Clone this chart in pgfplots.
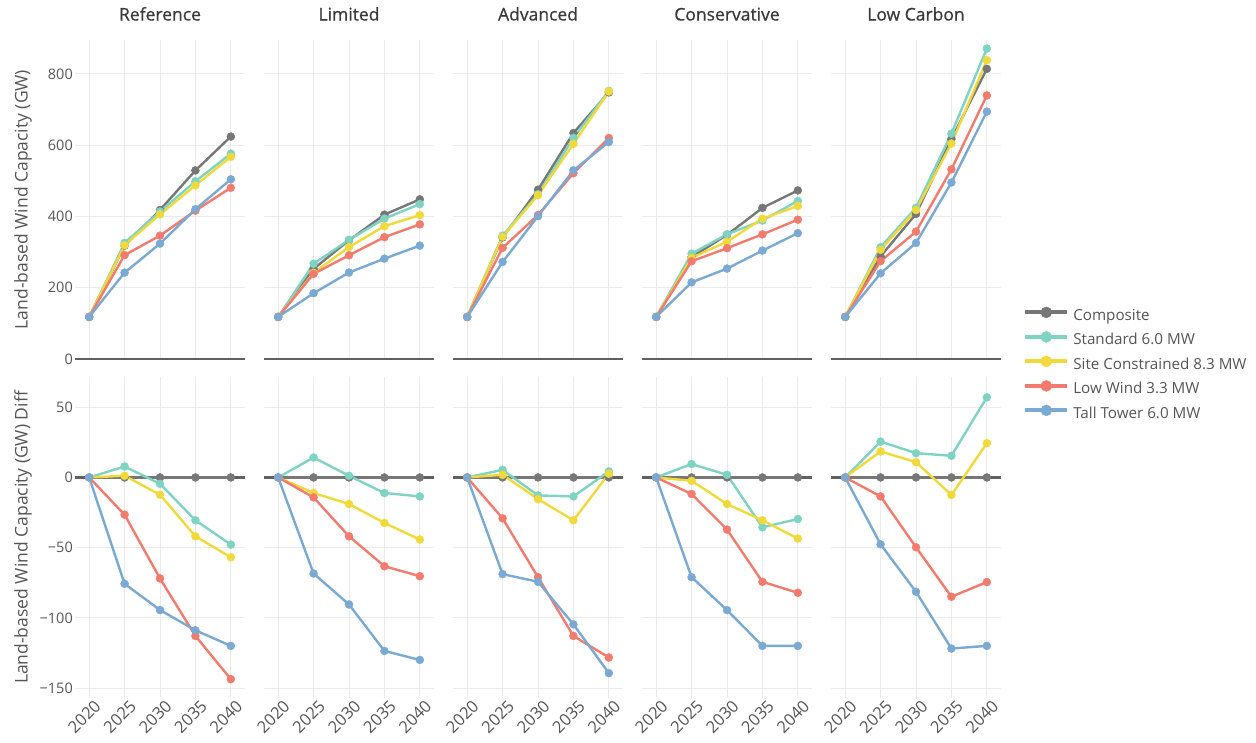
\documentclass[border=0pt]{standalone}
\usepackage{fontspec}
\setmainfont{Open Sans}
\newfontfamily\titlefam{Open Sans}[FakeBold=0.7]
\usepackage{pgfplots}
\usepackage{pgfplotstable}
\pgfplotsset{compat=1.18}

\definecolor{cComp}{HTML}{777777}
\definecolor{cStd}{HTML}{7FD3C3}
\definecolor{cSite}{HTML}{F0D93A}
\definecolor{cLow}{HTML}{F27B6D}
\definecolor{cTall}{HTML}{7AAAD4}
\definecolor{zeroGrey}{HTML}{606060}
\definecolor{gridGrey}{HTML}{EBEBEB}
\definecolor{tickGrey}{HTML}{555555}
\definecolor{titleGrey}{HTML}{3A3A3A}

\newcommand\tickfont{\fontsize{14.5bp}{17bp}\selectfont}
\newcommand\xtickfont{\fontsize{16.5bp}{19bp}\selectfont}
\newcommand\titlefont{\titlefam\fontsize{17.5bp}{20bp}\selectfont}
\newcommand\labelfont{\fontsize{17.5bp}{20bp}\selectfont}
\newcommand\legendfont{\fontsize{15.2bp}{18bp}\selectfont}

% capacity (GW) per technology and difference from the composite (GW)
\pgfplotstableread{
year comp std   site  low   tall  dcomp dstd  dsite dlow   dtall
2020 118  118   118   118   118   0     0     0     0      0
2025 318  325.8 319.2 291.5 242.3 0     7.8   1.2   -26.5  -75.7
2030 418  413.5 405.7 346.1 323.6 0     -4.5  -12.3 -71.9  -94.4
2035 529  498.5 487.1 416.2 420.2 0     -30.5 -41.9 -112.8 -108.8
2040 624  576.2 567.2 480.4 504.1 0     -47.8 -56.8 -143.6 -119.9
}\tRef
\pgfplotstableread{
year comp std   site  low   tall  dcomp dstd  dsite dlow  dtall
2020 118  118   118   118   118   0     0     0     0     0
2025 253  267.2 241.9 238.8 184.6 0     14.2  -11.1 -14.2 -68.4
2030 333  334.2 314.1 291.1 242.6 0     1.2   -18.9 -41.9 -90.4
2035 405  393.9 372.6 341.8 281.5 0     -11.1 -32.4 -63.2 -123.5
2040 448  434.5 403.8 377.7 318.1 0     -13.5 -44.2 -70.3 -129.9
}\tLim
\pgfplotstableread{
year comp std   site  low   tall  dcomp dstd  dsite dlow   dtall
2020 118  118   118   118   118   0     0     0     0      0
2025 341  346.4 342.9 311.9 272.2 0     5.4   1.9   -29.1  -68.8
2030 475  462.2 459.6 404.0 400.7 0     -12.8 -15.4 -71.0  -74.3
2035 634  620.5 603.5 521.2 529.4 0     -13.5 -30.5 -112.8 -104.6
2040 748  752.3 750.6 619.8 608.7 0     4.3   2.6   -128.2 -139.3
}\tAdv
\pgfplotstableread{
year comp std   site  low   tall  dcomp dstd  dsite dlow  dtall
2020 118  118   118   118   118   0     0     0     0     0
2025 286  295.5 283.6 274.2 215.0 0     9.5   -2.4  -11.8 -71.0
2030 348  349.9 329.1 310.9 253.6 0     1.9   -18.9 -37.1 -94.4
2035 424  388.5 393.5 349.7 304.1 0     -35.5 -30.5 -74.3 -119.9
2040 473  443.4 429.5 390.9 353.1 0     -29.6 -43.5 -82.1 -119.9
}\tCons
\pgfplotstableread{
year comp std   site  low   tall  dcomp dstd  dsite dlow  dtall
2020 118  118   118   118   118   0     0     0     0     0
2025 288  313.5 306.5 274.5 240.4 0     25.5  18.5  -13.5 -47.6
2030 407  424.3 417.9 357.3 325.6 0     17.3  10.9  -49.7 -81.4
2035 617  632.4 604.5 532.1 495.2 0     15.4  -12.5 -84.9 -121.8
2040 814  871.0 838.4 739.5 694.1 0     57.0  24.4  -74.5 -119.9
}\tLow

\tikzset{zeroline/.style={draw=zeroGrey, line width=2.4bp}}

\pgfplotsset{
  panel/.style={
    scale only axis, width=170bp, anchor=south west,
    xmin=2018, xmax=2042, xtick={2020,2025,2030,2035,2040},
    grid=major, grid style={draw=gridGrey, line width=0.9bp},
    major tick length=0pt, axis line style={draw=none},
    tick label style={font=\tickfont, text=tickGrey},
    yticklabel style={inner sep=1bp, xshift=-1bp},
    /pgf/number format/1000 sep={},
    /pgf/number format/assume math mode=true,
    clip=false,
    title style={at={(axis description cs:0.5,1)}, anchor=base, yshift=13.5bp,
                 font=\titlefont, text=titleGrey},
    ylabel style={at={(axis description cs:-0.305,0.5)}, anchor=center,
                  font=\labelfont, text=tickGrey},
  },
  toprow/.style={panel, height=319bp, ymin=0, ymax=895,
    ytick={0,200,400,600,800}, xticklabels={}},
  botrow/.style={panel, height=321bp, ymin=-157, ymax=71.5,
    ytick={-150,-100,-50,0,50},
    xticklabel style={font=\xtickfont, rotate=45, anchor=north east,
                      inner sep=1bp, xshift=3.5bp, yshift=-2.5bp}},
  noylab/.style={yticklabels={}},
  ser/.style={line width=2.4bp, mark=*, mark size=4bp,
    mark options={solid, line width=0.4bp}},
  sComp/.style={ser, color=cComp},
  sStd/.style={ser, color=cStd},
  sSite/.style={ser, color=cSite},
  sLow/.style={ser, color=cLow},
  sTall/.style={ser, color=cTall},
}

% five series of one scenario: capacity (top) or difference (bottom)
\newcommand\capseries[1]{%
  \draw[zeroline] (axis cs:2018,0) -- (axis cs:2042,0);
  \addplot[sComp] table[x=year,y=comp]{#1};
  \addplot[sStd]  table[x=year,y=std]{#1};
  \addplot[sSite] table[x=year,y=site]{#1};
  \addplot[sLow]  table[x=year,y=low]{#1};
  \addplot[sTall] table[x=year,y=tall]{#1};
}
\newcommand\diffseries[1]{%
  \draw[zeroline] (axis cs:2018,0) -- (axis cs:2042,0);
  \addplot[sComp] table[x=year,y=dcomp]{#1};
  \addplot[sStd]  table[x=year,y=dstd]{#1};
  \addplot[sSite] table[x=year,y=dsite]{#1};
  \addplot[sLow]  table[x=year,y=dlow]{#1};
  \addplot[sTall] table[x=year,y=dtall]{#1};
}

\begin{document}
\begin{tikzpicture}
\useasboundingbox (0,0) rectangle (1256bp,743bp);

% ---- capacity row ----
\begin{axis}[toprow, at={(75bp,384bp)}, title={Reference},
  ylabel={Land-based Wind Capacity (GW)}]
\capseries{\tRef}
\end{axis}
\begin{axis}[toprow, noylab, at={(264bp,384bp)}, title={Limited}]
\capseries{\tLim}
\end{axis}
\begin{axis}[toprow, noylab, at={(453bp,384bp)}, title={Advanced}]
\capseries{\tAdv}
\end{axis}
\begin{axis}[toprow, noylab, at={(642bp,384bp)}, title={Conservative}]
\capseries{\tCons}
\end{axis}
\begin{axis}[toprow, noylab, at={(831bp,384bp)}, title={Low Carbon},
  legend entries={Composite, Standard 6.0 MW, Site Constrained 8.3 MW,
                  Low Wind 3.3 MW, Tall Tower 6.0 MW},
  legend style={at={(axis description cs:1.13,0.164)}, anchor=north west,
    draw=none, fill=none, inner sep=0pt, font=\legendfont, text=tickGrey,
    nodes={inner sep=0pt, text height=10.5bp, text depth=3.5bp},
    row sep=7.5bp},
  legend cell align=left,
  /tikz/every odd column/.append style={column sep=4bp},
  legend image code/.code={%
    \draw[#1, mark repeat=2, mark phase=2, line width=4bp, mark size=5.5bp]
      plot coordinates {(0bp,4.5bp) (21bp,4.5bp) (42bp,4.5bp)};}]
\capseries{\tLow}
\end{axis}

% ---- difference row ----
\begin{axis}[botrow, at={(75bp,45bp)},
  yticklabels={−150,−100,−50,0,50},
  ylabel={Land-based Wind Capacity (GW) Diff}]
\diffseries{\tRef}
\end{axis}
\begin{axis}[botrow, noylab, at={(264bp,45bp)}]
\diffseries{\tLim}
\end{axis}
\begin{axis}[botrow, noylab, at={(453bp,45bp)}]
\diffseries{\tAdv}
\end{axis}
\begin{axis}[botrow, noylab, at={(642bp,45bp)}]
\diffseries{\tCons}
\end{axis}
\begin{axis}[botrow, noylab, at={(831bp,45bp)}]
\diffseries{\tLow}
\end{axis}
\end{tikzpicture}
\end{document}
